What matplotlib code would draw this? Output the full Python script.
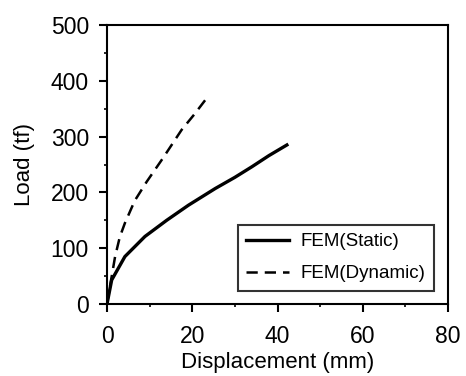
import numpy as np
import matplotlib
matplotlib.use("Agg")
import matplotlib.pyplot as plt
from matplotlib.ticker import MultipleLocator

plt.rcParams['font.family'] = ['Liberation Sans', 'DejaVu Sans']

# Data
static_x = [0, 1.1, 4.2, 8.9, 14, 19.1, 25.4, 30, 34, 38, 42.2]
static_y = [0, 43, 85, 121, 150, 177, 207, 227, 246, 266, 285]

dyn_x = [0, 1.0, 1.9, 3.0, 4.2, 6.5, 9.3, 13, 17.5, 20.5, 23.5]
dyn_y = [0, 45, 85, 120, 145, 185, 219, 260, 312, 340, 370]

fig = plt.figure(figsize=(4.66, 3.76), dpi=100)
ax = fig.add_axes([107 / 466, 1 - 304 / 376, (448 - 107) / 466, (304 - 25) / 376])

ax.plot(static_x, static_y, color='black', linewidth=2.4, label='FEM(Static)')
ax.plot(dyn_x, dyn_y, color='black', linewidth=1.8, linestyle=(0, (4.5, 2.8)),
        label='FEM(Dynamic)')

ax.set_xlim(0, 80)
ax.set_ylim(0, 500)
ax.xaxis.set_major_locator(MultipleLocator(20))
ax.xaxis.set_minor_locator(MultipleLocator(10))
ax.yaxis.set_major_locator(MultipleLocator(100))
ax.yaxis.set_minor_locator(MultipleLocator(50))
ax.tick_params(which='major', direction='out', length=6, width=1.5, labelsize=16.5)
ax.tick_params(which='minor', direction='out', length=2.5, width=1.2)
ax.tick_params(axis='x', which='major', pad=9)
ax.tick_params(axis='y', which='major', pad=7)
for s in ax.spines.values():
    s.set_linewidth(1.5)

ax.set_xlabel('Displacement (mm)', fontsize=16, labelpad=3)
ax.set_ylabel('Load (tf)', fontsize=16, labelpad=11)

leg = ax.legend(loc='lower right', bbox_to_anchor=(0.959, 0.047), borderaxespad=0,
                fontsize=13.5, frameon=True, fancybox=False, edgecolor='black',
                handlelength=2.3, handletextpad=0.6, borderpad=0.45,
                labelspacing=0.8)
leg.get_frame().set_linewidth(1.5)

fig.savefig('out.png', dpi=100)
